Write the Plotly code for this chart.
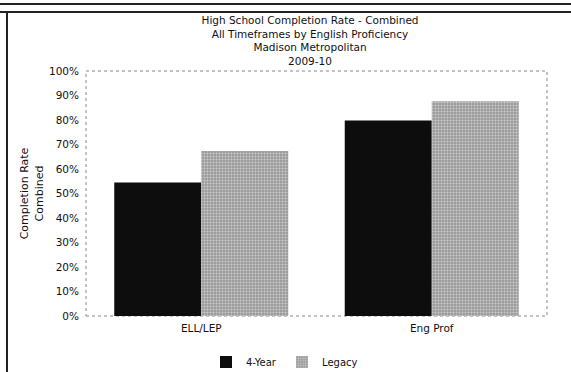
import plotly.graph_objects as go

categories = ["ELL/LEP", "Eng Prof"]
four_year = [54.5, 79.8]
legacy = [67.3, 87.7]
y_ticks = [0, 10, 20, 30, 40, 50, 60, 70, 80, 90, 100]
y_tick_labels = [f"{v}%" for v in y_ticks]
title_lines = ["High School Completion Rate - Combined",
               "All Timeframes by English Proficiency",
               "Madison Metropolitan",
               "2009-10"]

FONT = "DejaVu Sans, Verdana, sans-serif"

fig = go.Figure()
fig.add_trace(go.Bar(name="4-Year", x=categories, y=four_year,
                     marker=dict(color="#0d0d0d", line=dict(width=0))))
fig.add_trace(go.Bar(name="Legacy", x=categories, y=legacy,
                     marker=dict(color="#a9a9a9", line=dict(width=0),
                                 pattern=dict(shape=".", fgcolor="#ffffff", bgcolor="#9a9a9a",
                                              size=3, solidity=0.35))))

fig.update_layout(
    width=571, height=372,
    margin=dict(l=86, r=24, t=71, b=56, autoexpand=False),
    paper_bgcolor="white", plot_bgcolor="white",
    font=dict(family=FONT, size=10, color="#111"),
    barmode="group", bargap=0.245, bargroupgap=0,
    showlegend=True,
    title=dict(text="<br>".join(title_lines), x=310 / 571, xanchor="center",
               y=1 - 24 / 372, yanchor="top", font=dict(family=FONT, size=10.5, color="#111")),
    legend=dict(orientation="h", x=(206 - 86) / 461, xanchor="left",
                y=(316 - 362) / 245, yanchor="middle",
                font=dict(family=FONT, size=10), traceorder="normal",
                itemwidth=30, entrywidth=31, entrywidthmode="pixels"),
    xaxis=dict(showgrid=False, showline=False, ticks="", tickfont=dict(size=10.5),
               ticklabelstandoff=4),
    yaxis=dict(range=[0, 100], tickvals=y_ticks, ticktext=y_tick_labels,
               showgrid=False, showline=False, zeroline=False,
               ticks="", tickfont=dict(size=10.5), ticklabelstandoff=6,
               title=dict(text="Completion Rate<br>Combined", font=dict(size=11), standoff=3)),
    shapes=[
        # dotted plot frame
        dict(type="rect", xref="paper", yref="paper", x0=0, x1=1, y0=0, y1=1,
             line=dict(color="#888888", width=1, dash="dot"), layer="below"),
        # double rule at top of page
        dict(type="line", xref="paper", yref="paper", x0=-0.2, x1=1.1,
             y0=(316 - 4) / 245, y1=(316 - 4) / 245, line=dict(color="#222", width=2)),
        dict(type="line", xref="paper", yref="paper", x0=-0.2, x1=1.1,
             y0=(316 - 12) / 245, y1=(316 - 12) / 245, line=dict(color="#222", width=2)),
        # left page border
        dict(type="line", xref="paper", yref="paper", x0=(7 - 86) / 461, x1=(7 - 86) / 461,
             y0=(316 - 380) / 245, y1=(316 - 12) / 245, line=dict(color="#222", width=2)),
    ],
)

fig.write_html("out.html")
